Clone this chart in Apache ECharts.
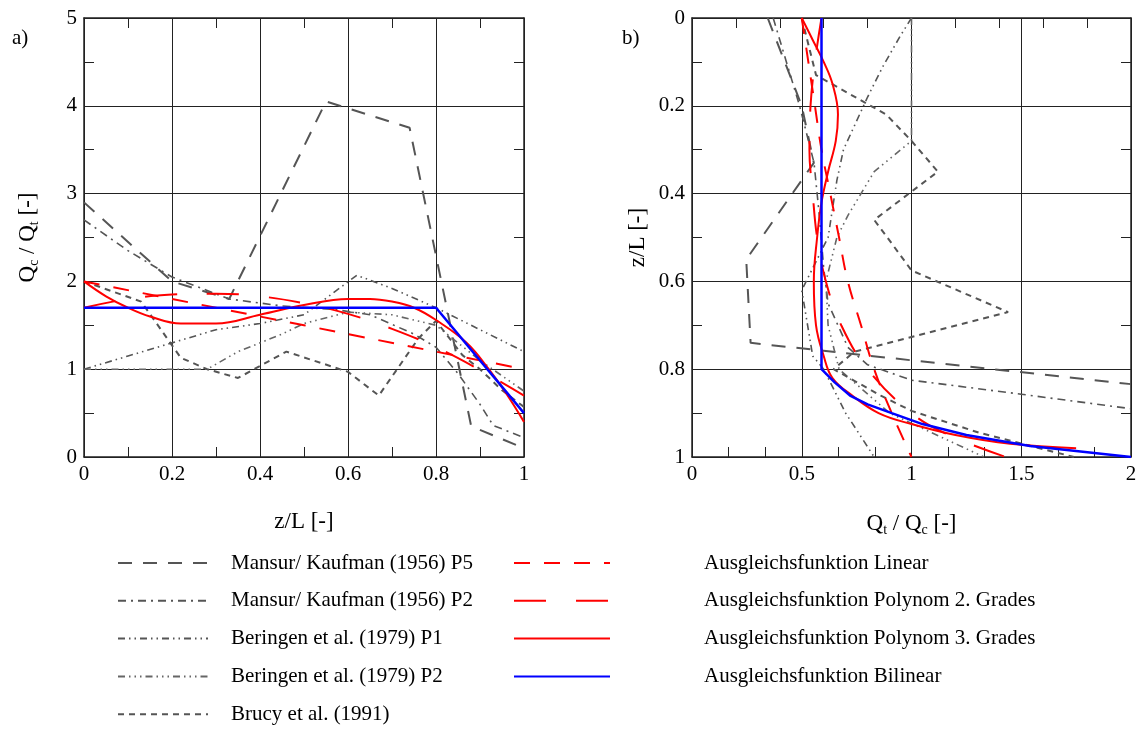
<!DOCTYPE html>
<html>
<head>
<meta charset="utf-8">
<script src="https://cdn.jsdelivr.net/npm/echarts@6/dist/echarts.min.js"></script>
<style>
  html, body { margin: 0; padding: 0; background: #fff; }
  #main { width: 1143px; height: 729px; }
</style>
</head>
<body>
<div id="main"></div>
<script>
// a) Qc/Qt over z/L   -> [z/L, Qc/Qt]
var aMansurP5 = [[0, 2.9], [0.2, 2.0], [0.33, 1.8], [0.55, 4.05], [0.74, 3.75], [0.88, 0.35], [1.0, 0.1]];
var aMansurP2 = [[0, 2.7], [0.1, 2.35], [0.2, 2.05], [0.33, 1.8], [0.45, 1.72], [0.57, 1.68], [0.65, 1.62], [0.75, 1.4], [0.8, 1.25], [0.85, 0.95], [0.9, 0.6], [0.93, 0.36], [1.0, 0.22]];
var aBeringenP1 = [[0, 1.0], [0.1, 1.15], [0.2, 1.3], [0.3, 1.45], [0.4, 1.52], [0.5, 1.62], [0.62, 2.07], [0.7, 1.92], [0.8, 1.7], [0.9, 1.45], [1.0, 1.2]];
var aBeringenP2 = [[0, 1.0], [0.28, 1.0], [0.35, 1.2], [0.45, 1.4], [0.5, 1.52], [0.6, 1.65], [0.7, 1.62], [0.8, 1.5], [0.9, 1.1], [1.0, 0.75]];
var aBrucy = [[0, 2.0], [0.13, 1.77], [0.22, 1.13], [0.28, 1.0], [0.35, 0.9], [0.46, 1.2], [0.6, 0.97], [0.67, 0.7], [0.76, 1.35], [0.8, 1.55], [0.86, 1.16], [0.9, 1.0], [0.95, 0.76], [1.0, 0.57]];
var aLinear = [[0, 2.0], [1.0, 1.0]];
var aPoly2 = [[0, 1.7], [0.1, 1.8], [0.2, 1.85], [0.3, 1.86], [0.4, 1.83], [0.5, 1.75], [0.6, 1.63], [0.7, 1.46], [0.8, 1.25], [0.9, 0.99], [1.0, 0.7]];
var aPoly3 = [[0, 2.0], [0.05, 1.83], [0.1, 1.7], [0.15, 1.6], [0.22, 1.52], [0.3, 1.52], [0.4, 1.62], [0.5, 1.73], [0.6, 1.8], [0.65, 1.8], [0.7, 1.77], [0.75, 1.7], [0.8, 1.56], [0.87, 1.3], [0.92, 1.0], [0.96, 0.72], [1.0, 0.4]];
var aBilinear = [[0, 1.7], [0.8, 1.7], [1.0, 0.5]];

// b) z/L over Qt/Qc   -> [Qt/Qc, z/L]
var bMansurP5 = [[0.345, 0], [0.5, 0.2], [0.555, 0.33], [0.247, 0.55], [0.267, 0.74], [2.0, 0.834]];
var bMansurP2 = [[0.37, 0], [0.43, 0.1], [0.49, 0.2], [0.556, 0.33], [0.58, 0.45], [0.6, 0.57], [0.62, 0.65], [0.71, 0.75], [0.8, 0.79], [1.0, 0.825], [1.5, 0.857], [2.0, 0.89]];
var bBeringenP1 = [[1.0, 0], [0.95, 0.04], [0.87, 0.11], [0.8, 0.18], [0.69, 0.3], [0.66, 0.37], [0.62, 0.5], [0.5, 0.62], [0.55, 0.77], [0.6, 0.8], [0.7, 0.9], [0.83, 1.0]];
var bBeringenP2 = [[1.0, 0], [1.0, 0.28], [0.83, 0.35], [0.71, 0.45], [0.66, 0.5], [0.61, 0.6], [0.62, 0.7], [0.67, 0.8], [0.9, 0.9], [1.33, 1.0]];
var bBrucy = [[0.5, 0], [0.565, 0.13], [0.885, 0.22], [1.0, 0.28], [1.12, 0.35], [0.83, 0.46], [0.89, 0.5], [1.0, 0.575], [1.44, 0.67], [0.74, 0.76], [0.645, 0.8], [0.86, 0.86], [1.0, 0.895], [1.31, 0.945], [1.74, 1.0]];
var bLinear = [[0.5, 0], [0.53, 0.1], [0.56, 0.2], [0.59, 0.3], [0.63, 0.4], [0.67, 0.5], [0.71, 0.6], [0.77, 0.7], [0.83, 0.8], [0.91, 0.9], [1.0, 1.0]];
var bPoly2 = [[0.59, 0], [0.56, 0.1], [0.54, 0.2], [0.535, 0.3], [0.55, 0.4], [0.57, 0.5], [0.61, 0.6], [0.68, 0.7], [0.8, 0.8], [1.0, 0.9], [1.17, 0.95], [1.43, 1.0]];
var bPoly3 = [[0.5, 0], [0.55, 0.05], [0.6, 0.1], [0.64, 0.15], [0.665, 0.22], [0.655, 0.28], [0.62, 0.35], [0.59, 0.42], [0.57, 0.5], [0.555, 0.6], [0.565, 0.7], [0.6, 0.77], [0.64, 0.82], [0.73, 0.86], [0.85, 0.9], [1.0, 0.925], [1.2, 0.95], [1.45, 0.97], [1.75, 0.98]];
var bBilinear = [[0.59, 0], [0.59, 0.8], [0.65, 0.83], [0.72, 0.86], [0.8, 0.88], [0.91, 0.9], [1.05, 0.925], [1.25, 0.95], [1.54, 0.975], [2.0, 1.0]];

var legendLeft = ['Mansur/ Kaufman (1956) P5', 'Mansur/ Kaufman (1956) P2', 'Beringen et al. (1979) P1', 'Beringen et al. (1979) P2', 'Brucy et al. (1991)'];
var legendRight = ['Ausgleichsfunktion Linear', 'Ausgleichsfunktion Polynom 2. Grades', 'Ausgleichsfunktion Polynom 3. Grades', 'Ausgleichsfunktion Bilinear'];

var FONT = 'Liberation Serif';
var GRAY = '#555555';

// 线型: name -> style
var styles = {};
styles[legendLeft[0]] = { color: GRAY, width: 2, type: [14, 11], smooth: false };
styles[legendLeft[1]] = { color: GRAY, width: 1.6, type: [8, 5, 2, 5], smooth: false };
styles[legendLeft[2]] = { color: GRAY, width: 1.6, type: [7, 4, 1.5, 4, 1.5, 4], smooth: false };
styles[legendLeft[3]] = { color: '#666666', width: 1.6, type: [7, 4, 1.5, 4, 1.5, 4, 1.5, 4], smooth: false };
styles[legendLeft[4]] = { color: GRAY, width: 2, type: [6, 5], smooth: false };
styles[legendRight[0]] = { color: '#ff0000', width: 2, type: [16, 14], smooth: 0.4 };
styles[legendRight[1]] = { color: '#ff0000', width: 2, type: [32, 30], smooth: 0.4 };
styles[legendRight[2]] = { color: '#ff0000', width: 2, type: 'solid', smooth: 0.4 };
styles[legendRight[3]] = { color: '#0000ff', width: 2.5, type: 'solid', smooth: false };

function mkSeries(name, data, panel) {
    var s = styles[name];
    return {
        name: name,
        type: 'line',
        xAxisIndex: panel * 2,
        yAxisIndex: panel * 2,
        data: data,
        symbol: 'none',
        smooth: s.smooth,
        clip: true,
        silent: true,
        itemStyle: { color: s.color },
        lineStyle: { color: s.color, width: s.width, type: s.type }
    };
}

var leftData = [aMansurP5, aMansurP2, aBeringenP1, aBeringenP2, aBrucy, aLinear, aPoly2, aPoly3, aBilinear];
var rightData = [bMansurP5, bMansurP2, bBeringenP1, bBeringenP2, bBrucy, bLinear, bPoly2, bPoly3, bBilinear];
var allNames = legendLeft.concat(legendRight);

var series = [];
allNames.forEach(function (n, i) { series.push(mkSeries(n, leftData[i], 0)); });
allNames.forEach(function (n, i) { series.push(mkSeries(n, rightData[i], 1)); });

var frameLine = { show: true, onZero: false, lineStyle: { color: '#222', width: 1.5 } };
var gridLine = { show: true, lineStyle: { color: '#222', width: 1 } };
var labelStyle = { color: '#000', fontFamily: FONT, fontSize: 21 };
var richName = {
    m: { fontFamily: FONT, fontSize: 23, color: '#000' },
    s: { fontFamily: FONT, fontSize: 14, color: '#000', verticalAlign: 'bottom', padding: [12, 0, 0, 0] }
};

function mainAxis(extra) {
    var base = {
        type: 'value',
        axisLine: frameLine,
        splitLine: gridLine,
        axisTick: { show: true, inside: true, length: 10, lineStyle: { color: '#222' } },
        axisLabel: Object.assign({ margin: 7 }, labelStyle),
        nameLocation: 'middle',
        nameTextStyle: { fontFamily: FONT, fontSize: 23, color: '#000', rich: richName }
    };
    return Object.assign(base, extra);
}

function tickAxis(extra) {
    var base = {
        type: 'value',
        axisLine: frameLine,
        splitLine: { show: false },
        axisTick: { show: true, inside: true, length: 10, lineStyle: { color: '#222' } },
        axisLabel: { show: false }
    };
    return Object.assign(base, extra);
}

function mkLegend(names, left, width, textGap) {
    return {
        data: names,
        orient: 'vertical',
        left: left, top: 552,
        padding: 0,
        itemWidth: width, itemHeight: 22, itemGap: 15.8,
        selectedMode: false,
        itemStyle: { opacity: 0 },
        textStyle: { fontFamily: FONT, fontSize: 21, color: '#000', padding: [0, 0, 0, textGap], lineHeight: 22 }
    };
}

var option = {
    animation: false,
    backgroundColor: '#fff',
    grid: [
        { left: 84, top: 18, width: 440, height: 439 },
        { left: 692, top: 18, width: 439, height: 439 }
    ],
    xAxis: [
        mainAxis({
            gridIndex: 0, position: 'bottom', min: 0, max: 1, interval: 0.2,
            minorTick: { show: true, splitNumber: 2, length: 10, lineStyle: { color: '#222' } },
            name: 'z/L [-]', nameGap: 53
        }),
        tickAxis({ gridIndex: 0, position: 'top', min: 0, max: 1, interval: 0.1 }),
        mainAxis({
            gridIndex: 1, position: 'bottom', min: 0, max: 2, interval: 0.5,
            minorTick: { show: true, splitNumber: 3, length: 10, lineStyle: { color: '#222' } },
            name: '{m|Q}{s|t}{m| / Q}{s|c}{m| [-]}', nameGap: 54
        }),
        tickAxis({ gridIndex: 1, position: 'top', min: 0, max: 2, interval: 0.2 })
    ],
    yAxis: [
        mainAxis({
            gridIndex: 0, position: 'left', min: 0, max: 5, interval: 1,
            minorTick: { show: true, splitNumber: 2, length: 10, lineStyle: { color: '#222' } },
            name: '{m|Q}{s|c}{m| / Q}{s|t}{m| [-]}', nameGap: 43
        }),
        tickAxis({ gridIndex: 0, position: 'right', min: 0, max: 5, interval: 0.5 }),
        mainAxis({
            gridIndex: 1, position: 'left', min: 0, max: 1, interval: 0.2, inverse: true,
            minorTick: { show: true, splitNumber: 2, length: 10, lineStyle: { color: '#222' } },
            name: 'z/L [-]', nameGap: 43
        }),
        tickAxis({ gridIndex: 1, position: 'right', min: 0, max: 1, interval: 0.1, inverse: true })
    ],
    legend: [
        mkLegend(legendLeft, 117, 90, 18),
        mkLegend(legendRight, 513, 96, 89)
    ],
    graphic: [
        { type: 'text', left: 12, top: 28, style: { text: 'a)', font: '21px "Liberation Serif"', fill: '#000' } },
        { type: 'text', left: 622, top: 28, style: { text: 'b)', font: '21px "Liberation Serif"', fill: '#000' } }
    ],
    series: series
};

var myChart = echarts.init(document.getElementById('main'));
myChart.setOption(option);
window.addEventListener('resize', function () {
    myChart.resize();
});
</script>
</body>
</html>
